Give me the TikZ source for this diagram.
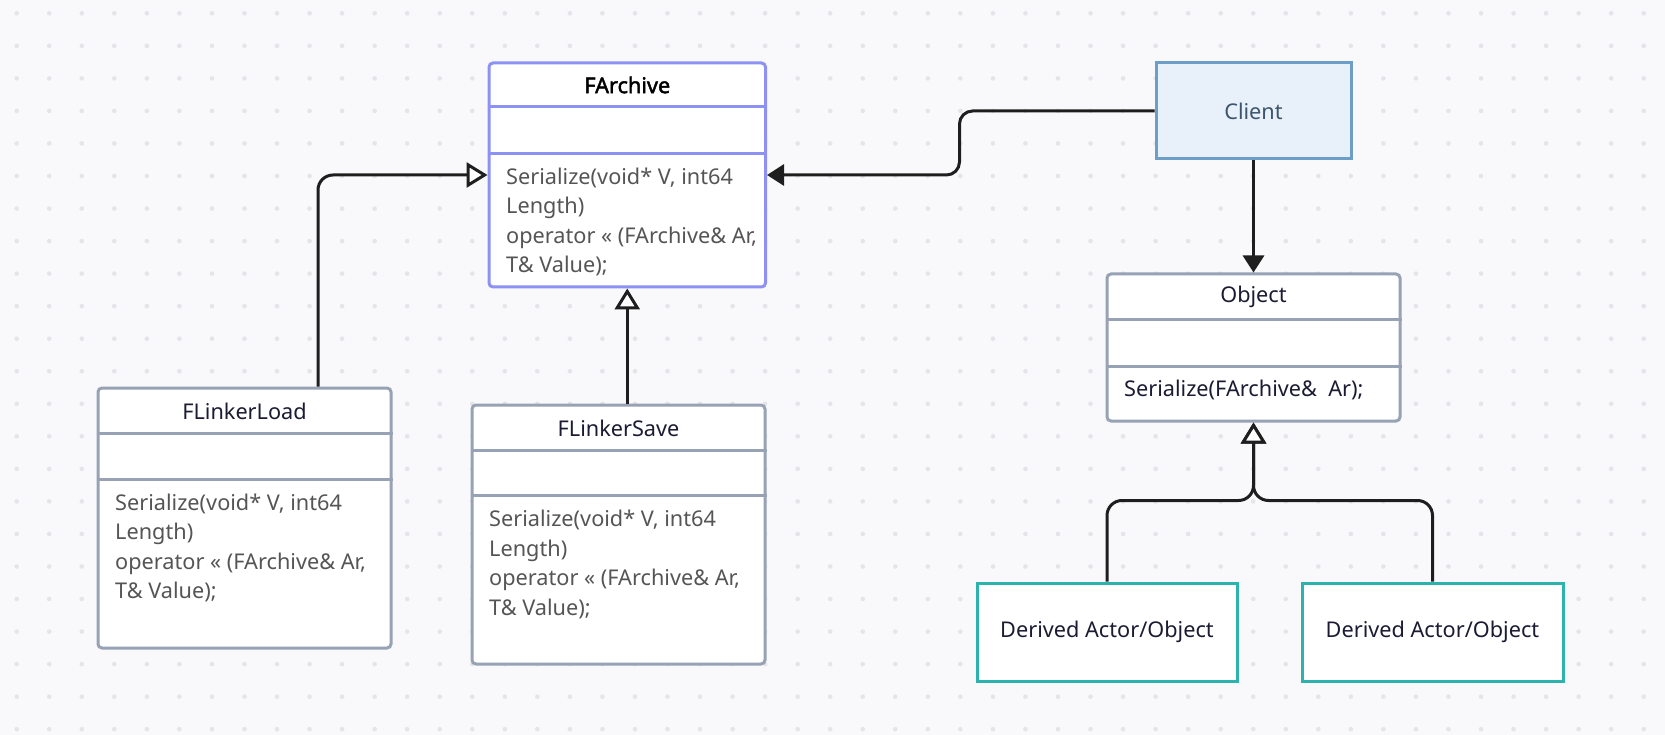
\documentclass[tikz,border=0pt]{standalone}
\usepackage{fontspec}
\setmainfont{Noto Sans}
\newfontfamily\titleheavy{Noto Sans}[FakeBold=2]
\usetikzlibrary{arrows.meta,calc}

\definecolor{canvas}{HTML}{F9F9FB}
\definecolor{dotc}{HTML}{E4E4E9}
\definecolor{slate}{HTML}{97A2B5}
\definecolor{violet}{HTML}{8D91F3}
\definecolor{teal}{HTML}{2DB3AE}
\definecolor{clientfill}{HTML}{E8F0F9}
\definecolor{clientline}{HTML}{6D9EC7}
\definecolor{clienttext}{HTML}{3D566E}
\definecolor{navy}{HTML}{1B1B33}
\definecolor{opgrey}{HTML}{555555}
\definecolor{wire}{HTML}{1E1E1E}

\tikzset{
  classbox/.style={draw=slate, line width=3pt, fill=white, rounded corners=4pt, inner sep=0pt},
  plainbox/.style={draw=#1, line width=3pt, inner sep=0pt},
  divider/.style={draw=slate, line width=3pt},
  title/.style={font=\fontsize{21.7}{26}\selectfont, text=navy, inner sep=0pt},
  ops/.style={font=\fontsize{21.7}{29.5}\selectfont, text=opgrey, align=left, inner sep=0pt, anchor=north west},
  inh/.style={draw=wire, line width=3pt, rounded corners=15pt,
    -{Triangle[open, fill=white, length=21pt, width=25pt, sharp]}},
  assoc/.style={draw=wire, line width=3pt, rounded corners=13pt,
    -{Triangle[length=17pt, width=21pt]}}
}

\begin{document}
\begin{tikzpicture}[x=1pt, y=-1pt]
  % canvas with dotted grid
  \fill[canvas] (0,0) rectangle (1665,735);
  \useasboundingbox (0,0) rectangle (1665,735);
  \foreach \i in {0,...,50}
    \foreach \j in {0,...,22}
      \fill[dotc] ({16.7+32.54*\i},{13.3+32.54*\j}) circle (2.3pt);

  % FArchive
  \node[classbox, draw=violet, minimum width=276.5pt, minimum height=224pt] (farchive) at (627.25,175) {};
  \draw[divider, draw=violet] (farchive.west |- 0,107) -- (farchive.east |- 0,107);
  \draw[divider, draw=violet] (farchive.west |- 0,154) -- (farchive.east |- 0,154);
  \node[title, font=\titleheavy\fontsize{21.7}{26}\selectfont, text=black] (farchivetitle) at (627.25,85) {FArchive};
  \node[ops] (farchiveops) at (506,162) {\rule{0pt}{22pt}Serialize(void* V, int64\\Length)\\operator « (FArchive\& Ar,\\T\& Value);};

  % Client
  \node[plainbox=clientline, fill=clientfill, minimum width=195pt, minimum height=96pt,
        font=\fontsize{21.7}{26}\selectfont, text=clienttext] (client) at (1253.5,111) {Client};

  % Object
  \node[classbox, minimum width=293pt, minimum height=147pt] (object) at (1253.5,347.5) {};
  \draw[divider] (object.west |- 0,319) -- (object.east |- 0,319);
  \draw[divider] (object.west |- 0,366) -- (object.east |- 0,366);
  \node[title] (objecttitle) at (1253.5,297) {Object};
  \node[ops, text=navy] (objectops) at (1124,374.5) {\rule{0pt}{22pt}Serialize(FArchive\&~ Ar);};

  % FLinkerLoad
  \node[classbox, minimum width=293pt, minimum height=260pt] (fload) at (244.5,518) {};
  \draw[divider] (fload.west |- 0,433) -- (fload.east |- 0,433);
  \draw[divider] (fload.west |- 0,479) -- (fload.east |- 0,479);
  \node[title] (floadtitle) at (244.5,411) {FLinkerLoad};
  \node[ops] (floadops) at (115,488) {\rule{0pt}{22pt}Serialize(void* V, int64\\Length)\\operator « (FArchive\& Ar,\\T\& Value);};

  % FLinkerSave
  \node[classbox, minimum width=293pt, minimum height=259pt] (fsave) at (618.5,534.5) {};
  \draw[divider] (fsave.west |- 0,450) -- (fsave.east |- 0,450);
  \draw[divider] (fsave.west |- 0,495) -- (fsave.east |- 0,495);
  \node[title] (fsavetitle) at (618.5,428) {FLinkerSave};
  \node[ops] (fsaveops) at (489,504.5) {\rule{0pt}{22pt}Serialize(void* V, int64\\Length)\\operator « (FArchive\& Ar,\\T\& Value);};

  % derived classes
  \node[plainbox=teal, fill=white, minimum width=260pt, minimum height=98pt,
        font=\fontsize{21.7}{26}\selectfont, text=navy] (derivedA) at (1107,632) {Derived Actor/Object};
  \node[plainbox=teal, fill=white, minimum width=261pt, minimum height=98pt,
        font=\fontsize{21.7}{26}\selectfont, text=navy] (derivedB) at (1432.5,632) {Derived Actor/Object};

  % connectors
  \draw[inh] ([xshift=73.5pt]fload.north) |- (farchive.west);
  \draw[inh] (farchive.south |- fsave.north) -- (farchive.south);
  \draw[assoc] (client.west) -- ++(-195,0) |- (farchive.east);
  \draw[assoc] (client.south) -- (object.north);
  \draw[inh] (derivedA.north) -- ++(0,-81) -| (object.south);
  \draw[inh] (derivedB.north) -- ++(0,-81) -| (object.south);
\end{tikzpicture}
\end{document}
